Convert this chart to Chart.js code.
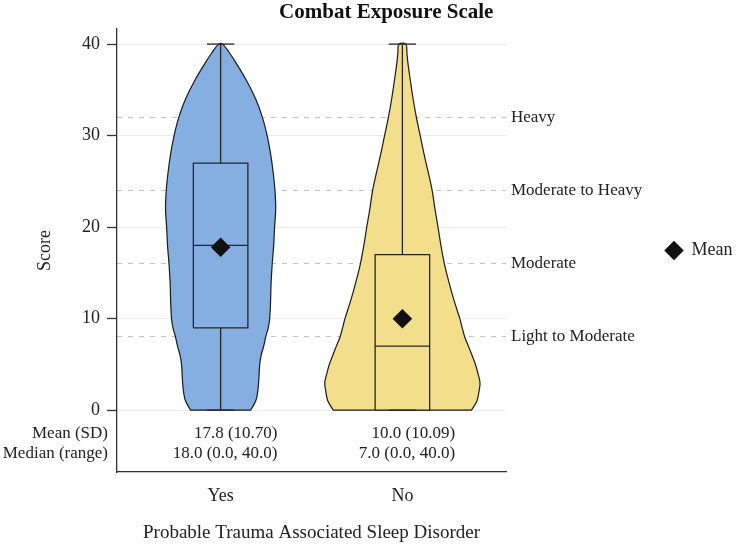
<!DOCTYPE html>
<html>
<head>
<meta charset="utf-8">
<script src="https://cdn.jsdelivr.net/npm/chart.js@4.4.1/dist/chart.umd.min.js"></script>
<style>
  html, body { margin: 0; padding: 0; background: #fff; }
</style>
</head>
<body>
<canvas id="chart" width="737" height="546"></canvas>
<script>
// --- DATA ---
const chartTitle = 'Combat Exposure Scale';
const groups = ['Yes', 'No'];
const means = [17.8, 10.0];
const sds = [10.70, 10.09];
const medians = [18.0, 7.0];
const q1s = [9, 0];
const q3s = [27, 17];
const mins = [0, 0];
const maxs = [40, 40];

const yTicks = [0, 10, 20, 30, 40];
const cutoffs = [8, 16, 24, 32];
const cutoffLabels = ['Light to Moderate', 'Moderate', 'Moderate to Heavy', 'Heavy'];
const rowLabels = ['Mean (SD)', 'Median (range)'];

// violin half-widths (in category units) read at each score level
const densityLevels = [0, 1, 2, 3, 4, 5, 6, 7, 8, 9, 10, 12, 14, 16, 18, 20, 22, 24, 26, 28, 30, 32, 34, 36, 38, 39, 40];
const yesWidths = [0.165, 0.193, 0.204, 0.209, 0.212, 0.215, 0.223, 0.237, 0.248, 0.262, 0.270, 0.275, 0.278, 0.284, 0.292, 0.297, 0.303, 0.299, 0.289, 0.275, 0.256, 0.230, 0.193, 0.143, 0.083, 0.050, 0.011];
const noWidths = [0.380, 0.410, 0.421, 0.427, 0.416, 0.402, 0.383, 0.363, 0.343, 0.329, 0.316, 0.284, 0.256, 0.231, 0.212, 0.196, 0.179, 0.164, 0.142, 0.119, 0.098, 0.077, 0.059, 0.044, 0.030, 0.025, 0.019];

// --- STYLE ---
const FONT = "'Liberation Serif', 'Times New Roman', serif";
const fills = ['#85afe0', '#f3df8b'];
const BOX_HALF = 0.15;
const CAP_HALF = 0.075;
Chart.defaults.font.family = FONT;
Chart.defaults.font.size = 17;
Chart.defaults.color = '#222';

const meanSd = means.map((m, i) => `${m.toFixed(1)} (${sds[i].toFixed(2)})`);
const medianRange = medians.map((m, i) => `${m.toFixed(1)} (${mins[i].toFixed(1)}, ${maxs[i].toFixed(1)})`);

// --- DATASETS ---
const datasets = [{
    label: 'Mean',
    data: means.map((m, i) => ({ x: i + 1, y: m })),
    showLine: false, pointStyle: 'rectRot', pointRadius: 9.8,
    backgroundColor: '#111', borderColor: '#111', borderWidth: 0, order: 0
}];

groups.forEach((g, i) => {
    const cx = i + 1;
    const widths = i === 0 ? yesWidths : noWidths;
    const right = densityLevels.map((v, k) => ({ x: cx + widths[k], y: v }));
    const left = densityLevels.map((v, k) => ({ x: cx - widths[k], y: v })).reverse();
    const line = (data, order, extra) => Object.assign({
        label: g, data, showLine: true, pointRadius: 0, borderColor: '#262626',
        borderWidth: 1.3, fill: false, tension: 0, order
    }, extra);
    const seg = (x1, y1, x2, y2) => [{ x: x1, y: y1 }, { x: x2, y: y2 }];

    // violin outline (corner points doubled so the flat bottom stays sharp)
    datasets.push(line([right[0], ...right, ...left, left[left.length - 1], right[0]], 4,
        { fill: 'shape', backgroundColor: fills[i], borderColor: '#1a1a1a', borderWidth: 1.2, tension: 0.35 }));
    // whiskers
    datasets.push(line(seg(cx, q3s[i], cx, maxs[i]), 3));
    datasets.push(line(seg(cx, mins[i], cx, q1s[i]), 3));
    // box
    datasets.push(line([
        { x: cx - BOX_HALF, y: q1s[i] }, { x: cx + BOX_HALF, y: q1s[i] },
        { x: cx + BOX_HALF, y: q3s[i] }, { x: cx - BOX_HALF, y: q3s[i] },
        { x: cx - BOX_HALF, y: q1s[i] }
    ], 2, { fill: 'shape', backgroundColor: fills[i] }));
    // median + caps
    datasets.push(line(seg(cx - BOX_HALF, medians[i], cx + BOX_HALF, medians[i]), 1));
    datasets.push(line(seg(cx - CAP_HALF, maxs[i], cx + CAP_HALF, maxs[i]), 1));
    datasets.push(line(seg(cx - CAP_HALF, mins[i], cx + CAP_HALF, mins[i]), 1));
});

// --- TITLE + SUMMARY ROWS ---
const annotations = {
    id: 'annotations',
    afterDraw(chart) {
        const { ctx, chartArea, scales: { x, y, y2 } } = chart;
        ctx.save();
        ctx.fillStyle = '#111';
        ctx.font = `bold 21px ${FONT}`;
        ctx.textAlign = 'center';
        ctx.textBaseline = 'alphabetic';
        ctx.fillText(chartTitle, (chartArea.left + y2.right) / 2, 17.5);

        ctx.fillStyle = '#222';
        ctx.font = `17px ${FONT}`;
        ctx.textAlign = 'right';
        const y0 = y.getPixelForValue(0);
        const rowY = [y0 + 28, y0 + 48];
        rowLabels.forEach((lab, r) => ctx.fillText(lab, chartArea.left - 9, rowY[r]));
        groups.forEach((g, i) => {
            const cx = x.getPixelForValue(i + 1);
            const w = Math.max(ctx.measureText(meanSd[i]).width, ctx.measureText(medianRange[i]).width);
            const rx = cx + w / 2 + 4.5;
            ctx.fillText(meanSd[i], rx, rowY[0]);
            ctx.fillText(medianRange[i], rx, rowY[1]);
        });
        ctx.restore();
    }
};

// --- CHART ---
new Chart(document.getElementById('chart'), {
    type: 'line',
    data: { datasets },
    plugins: [annotations],
    options: {
        responsive: false,
        animation: false,
        events: [],
        layout: { padding: { top: 29, right: 0, left: 0, bottom: 0 } },
        plugins: {
            title: { display: false },
            tooltip: { enabled: false },
            legend: {
                position: 'right', fullSize: false, align: 'center', maxWidth: 81.5,
                labels: {
                    filter: item => item.text === 'Mean',
                    usePointStyle: true, boxWidth: 17, boxHeight: 13.8, padding: 10,
                    color: '#222', font: { size: 18 }
                }
            }
        },
        scales: {
            x: {
                type: 'linear', min: 0.43, max: 2.57,
                afterBuildTicks: s => { s.ticks = groups.map((g, i) => ({ value: i + 1 })); },
                afterFit: s => { s.height = 74; },
                ticks: { callback: v => groups[v - 1], padding: 13.5, font: { size: 18 }, color: '#222', maxRotation: 0 },
                grid: { display: false, drawTicks: false },
                border: { display: true, color: '#333', width: 1.3 },
                title: { display: true, text: 'Probable Trauma Associated Sleep Disorder', font: { size: 19 }, color: '#222', padding: { top: 0, bottom: 1.6 } }
            },
            y: {
                min: -6.75, max: 41.65,
                afterBuildTicks: s => { s.ticks = yTicks.map(v => ({ value: v })); },
                afterFit: s => { s.width = 117; },
                ticks: { padding: 7, font: { size: 18 }, color: '#222' },
                grid: { color: '#ebebeb', lineWidth: 1, tickColor: '#333', tickLength: 10, tickWidth: 1.3 },
                border: { display: true, color: '#333', width: 1.3 },
                title: { display: true, text: 'Score', font: { size: 18 }, color: '#222', padding: { top: 34, bottom: 0 } }
            },
            y2: {
                position: 'right', min: -6.75, max: 41.65,
                afterBuildTicks: s => { s.ticks = cutoffs.map(v => ({ value: v })); },
                afterFit: s => { s.width = 149.5; },
                ticks: { callback: v => cutoffLabels[cutoffs.indexOf(v)], padding: 5, font: { size: 17 }, color: '#222' },
                grid: { color: '#c4c4c4', lineWidth: 1, drawTicks: false },
                border: { display: false, dash: [5, 6] }
            }
        }
    }
});
</script>
</body>
</html>
